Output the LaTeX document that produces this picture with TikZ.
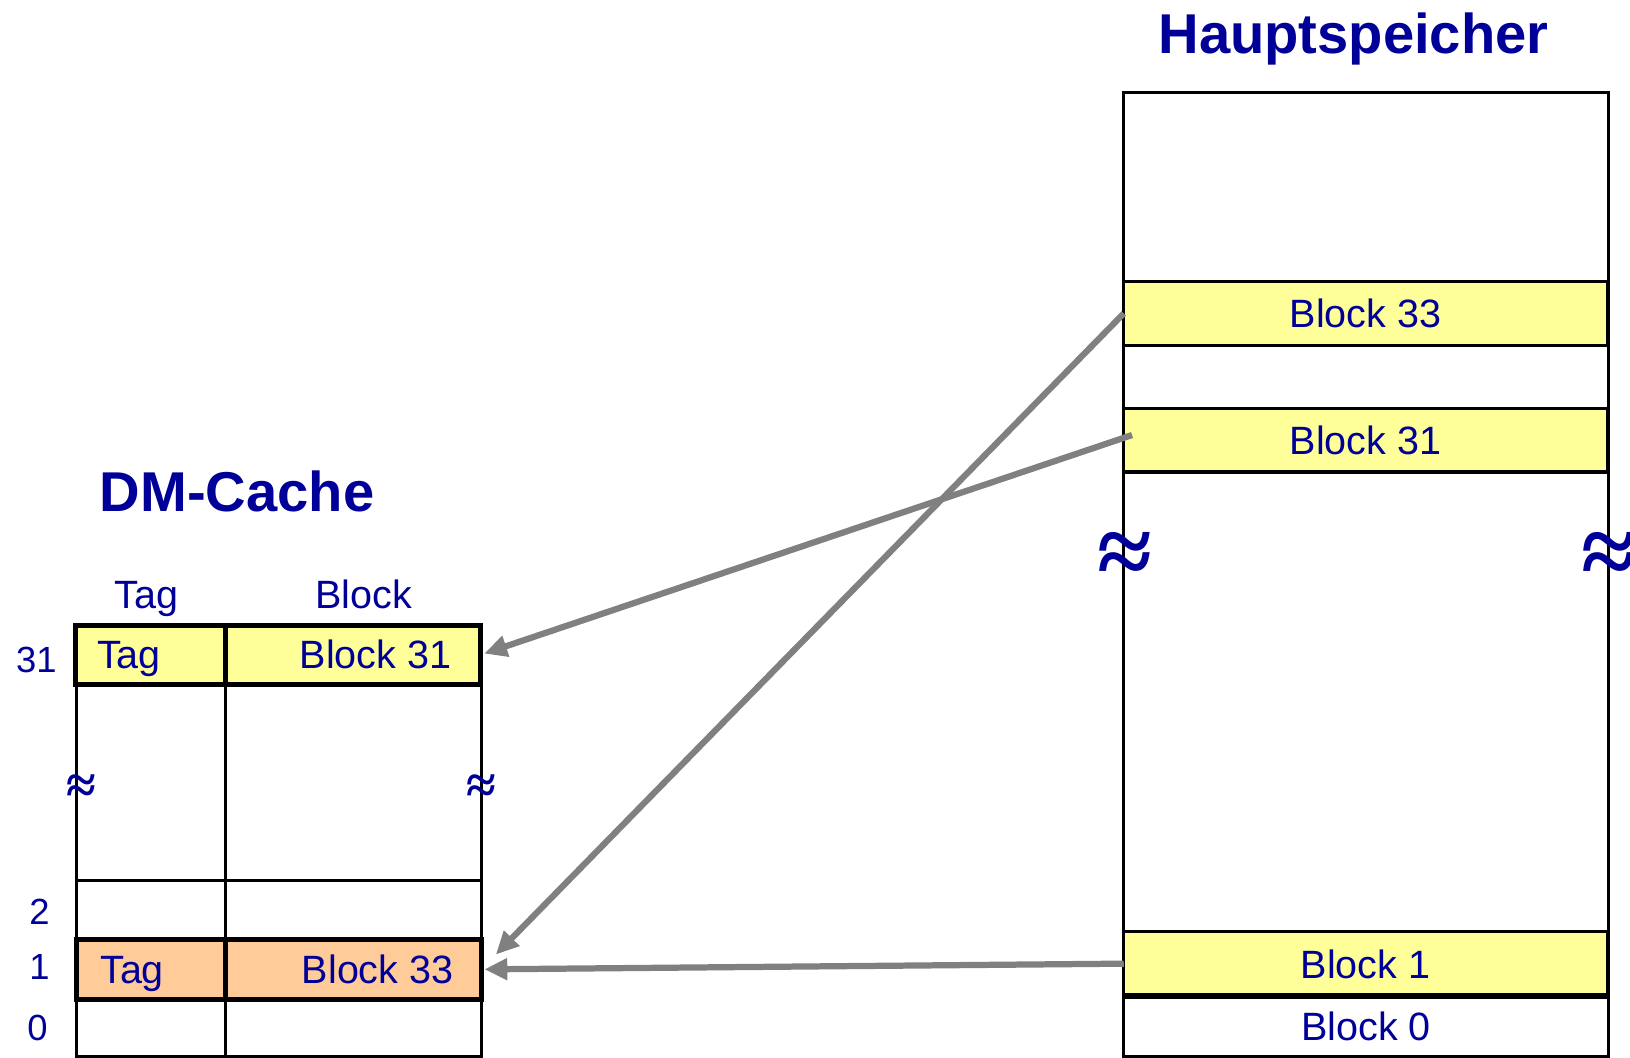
\documentclass[tikz,border=0pt]{standalone}
\usepackage{fontspec}
\setmainfont{Liberation Sans}
\newfontfamily\serifx{Liberation Serif}
\usetikzlibrary{arrows.meta,calc,fit}
\definecolor{tblue}{RGB}{0,0,153}
\definecolor{cyellow}{RGB}{255,255,153}
\definecolor{corange}{RGB}{255,204,153}
\definecolor{cgray}{RGB}{128,128,128}
\begin{document}
\begin{tikzpicture}[x=0.5pt,y=-0.5pt,
  cell/.style={draw=black, line width=1.5pt, inner sep=0pt, outer sep=0pt},
  thickcell/.style={cell, line width=2.4pt},
  txt/.style={text=tblue, font=\fontsize{19}{22}\selectfont, inner sep=0pt, text height=13.8pt, text depth=0pt},
  lbl/.style={text=tblue, font=\fontsize{17.5}{20}\selectfont, inner sep=0pt, text height=12.7pt, text depth=0pt},
  title/.style={text=tblue, font=\bfseries\fontsize{27}{30}\selectfont, inner sep=0pt, text height=19.6pt, text depth=0pt},
  wavebig/.style={text=tblue, font=\serifx\bfseries\fontsize{48}{48}\selectfont, inner sep=0pt},
  wavesmall/.style={text=tblue, font=\serifx\bfseries\fontsize{26}{26}\selectfont, inner sep=0pt},
  conn/.style={draw=cgray, line width=3pt, -{Triangle[length=11pt,width=10pt]}}
]
\useasboundingbox (0,0) rectangle (1568,1017);

% ---------------- Hauptspeicher ----------------
\node[title] (thsp) at (1302,32) {Hauptspeicher};
\node[cell, fit={(1081,89) (1547,1016)}] (hs) {};
\node[cell, fill=cyellow, fit={(1081,271) (1546,332)}] (m33) {};
\node[cell, fill=cyellow, fit={(1081,393) (1546,454)}] (m31) {};
\node[cell, fill=cyellow, fit={(1081,896) (1546,958)}] (m1) {};
\node[cell, fit={(1081,958) (1547,1016)}] (m0) {};
\draw[line width=2.6pt] (m1.south west) -- (m1.south east);
\node[txt] (tm33) at (m33) {Block 33};
\node[txt] (tm31) at (m31) {Block 31};
\node[txt] (tm1) at (m1) {Block 1};
\node[txt] (tm0) at (m0) {Block 0};
\node[wavebig] (w1) at (1082,538) {≈};
\node[wavebig] (w2) at (1548,538) {≈};

% ---------------- DM-Cache ----------------
\node[title] (tdm) at (228,472) {DM-Cache};
\node[txt] (htag) at (141,572) {Tag};
\node[txt] (hblk) at (350,572) {Block};

\node[cell, fit={(74,658) (217,847)}] (cgt) {};
\node[cell, fit={(217,658) (463,847)}] (cgb) {};
\node[cell, fit={(74,847) (217,904)}] (c2t) {};
\node[cell, fit={(217,847) (463,904)}] (c2b) {};
\node[cell, fit={(74,961) (217,1016)}] (c0t) {};
\node[cell, fit={(217,961) (463,1016)}] (c0b) {};
\node[thickcell, fill=cyellow, fit={(73,602) (217,658)}] (c31t) {};
\node[thickcell, fill=cyellow, fit={(217,602) (462,658)}] (c31b) {};
\node[thickcell, fill=corange, fit={(74,904) (217,961)}] (c1t) {};
\node[thickcell, fill=corange, fit={(217,904) (463,961)}] (c1b) {};

\node[txt, anchor=west] (t31a) at (93,629) {Tag};
\node[txt, anchor=west] (t31b) at (288,629) {Block 31};
\node[txt, anchor=west] (t1a) at (96,932) {Tag};
\node[txt, anchor=west] (t1b) at (290,932) {Block 33};

\node[lbl] (r31) at (35,634) {31};
\node[lbl] (r2) at (38,877) {2};
\node[lbl] (r1) at (38,930) {1};
\node[lbl] (r0) at (36,988) {0};

\node[wavesmall] (w3) at (78,759) {≈};
\node[wavesmall] (w4) at (463,759) {≈};

% ---------------- Connectors ----------------
\draw[conn, shorten >=10pt] (m33.west) -- (c1b.east);
\draw[conn, shorten >=2pt] ($(m31.west)+(8,-5)$) -- (c31b.east);
\draw[conn, shorten >=1.5pt] (m1.west) -- (c1b.east);
\end{tikzpicture}
\end{document}
